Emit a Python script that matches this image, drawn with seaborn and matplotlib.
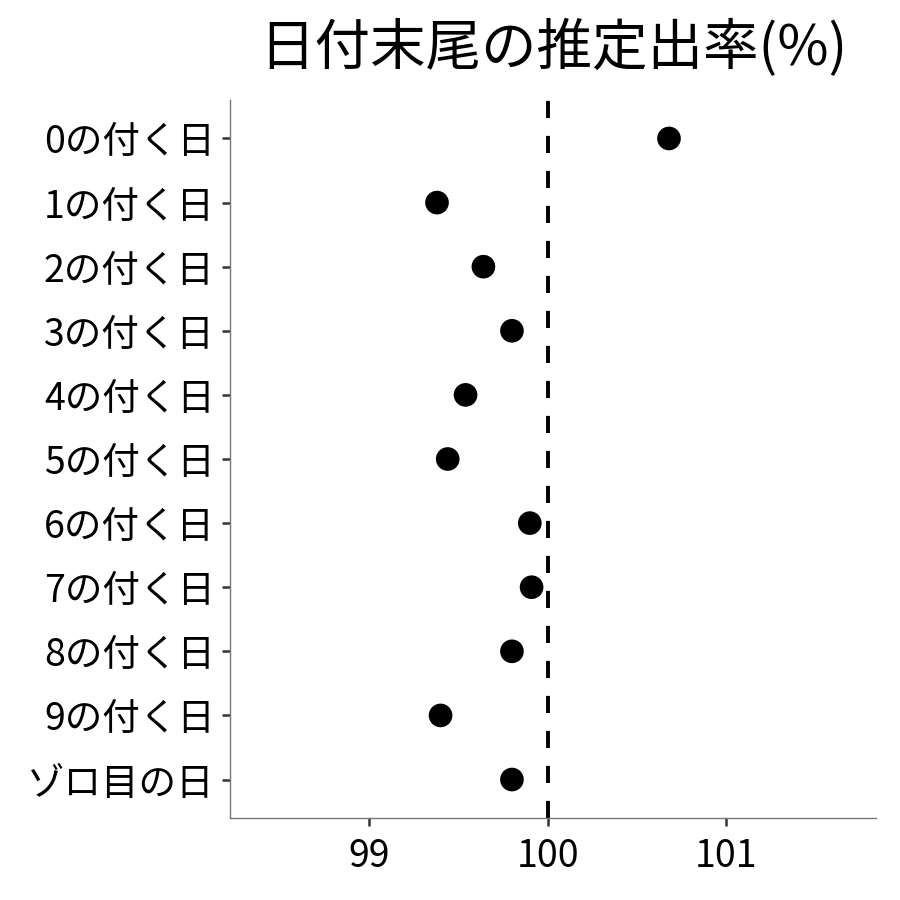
import matplotlib
matplotlib.use("Agg")
import matplotlib.pyplot as plt
import seaborn as sns
import pandas as pd

categories = ["0の付く日", "1の付く日", "2の付く日", "3の付く日", "4の付く日",
              "5の付く日", "6の付く日", "7の付く日", "8の付く日", "9の付く日", "ゾロ目の日"]
rates = [100.68, 99.38, 99.64, 99.80, 99.54, 99.44, 99.90, 99.91, 99.80, 99.40, 99.80]
xticks = [99, 100, 101]
title = "日付末尾の推定出率(%)"

sns.set_theme(style="white")
plt.rcParams['font.family'] = ['Noto Sans CJK JP', 'DejaVu Sans']

df = pd.DataFrame({"cat": categories, "rate": rates})

fig = plt.figure(figsize=(9, 9), dpi=100)
ax = fig.add_axes([230/900, 1-818/900, (876-230)/900, (818-100)/900])

ax.axvline(100, color="black", lw=2.8, linestyle=(0, (4.4, 4.6)), zorder=1)
sns.scatterplot(data=df, x="rate", y="cat", ax=ax, color="black", s=290,
                edgecolor="none", zorder=3, legend=False)

ax.set_xlim(98.22, 101.84)
ax.set_ylim(len(categories) - 0.4, -0.6)
ax.set_xticks(xticks)
ax.set_xticklabels([str(t) for t in xticks])
ax.set_xlabel("")
ax.set_ylabel("")

for side in ["top", "right"]:
    ax.spines[side].set_visible(False)
for side in ["left", "bottom"]:
    ax.spines[side].set_color("#777777")
    ax.spines[side].set_linewidth(1.0)

ax.tick_params(axis="both", which="major", length=6, width=1.8, color="#333333",
               labelsize=27, labelcolor="black", direction="out",
               bottom=True, left=True)
ax.tick_params(axis="y", pad=5)
ax.tick_params(axis="x", pad=8)

ax.set_title(title, fontsize=40, color="black", pad=25)

fig.savefig("out.png", dpi=100, facecolor="white")
